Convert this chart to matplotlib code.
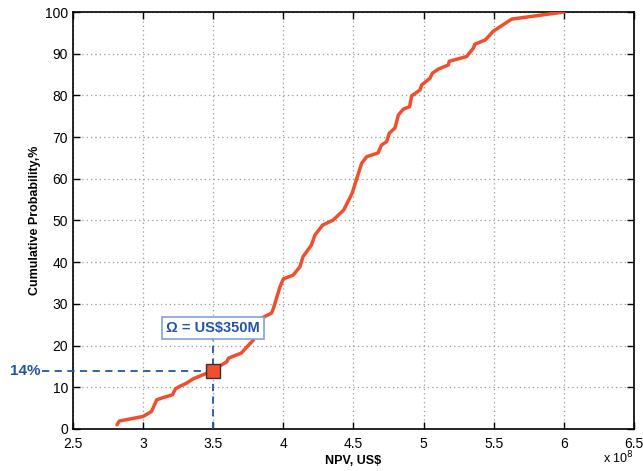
import matplotlib
matplotlib.use("Agg")
import matplotlib.pyplot as plt

plt.rcParams['font.family'] = ['Liberation Sans', 'DejaVu Sans']

# NPV (x 1e8 US$) and cumulative probability (%)
npv = [2.814, 2.83, 3.0, 3.06, 3.097, 3.14, 3.21, 3.23, 3.26, 3.31, 3.356, 3.405, 3.5,
       3.55, 3.596, 3.61, 3.70, 3.74, 3.786, 3.845, 3.916, 3.93, 3.976, 4.0, 4.07,
       4.118, 4.14, 4.20, 4.225, 4.28, 4.355, 4.43, 4.49, 4.52, 4.558, 4.594, 4.675,
       4.70, 4.736, 4.755, 4.796, 4.82, 4.855, 4.90, 4.915, 4.974, 4.986, 5.045, 5.062,
       5.105, 5.176, 5.183, 5.306, 5.354, 5.366, 5.44, 5.497, 5.628, 6.0]
cum_prob = [1.0, 1.9, 3.0, 4.2, 7.0, 7.5, 8.2, 9.6, 10.2, 11.0, 12.0, 12.7, 14.0,
            15.2, 16.1, 17.0, 18.2, 19.7, 21.3, 26.6, 27.8, 29.0, 34.1, 36.0, 36.9,
            38.9, 41.3, 44.1, 46.5, 48.9, 50.1, 52.5, 56.5, 59.7, 63.7, 65.3, 66.2,
            68.1, 68.9, 70.9, 72.2, 75.3, 76.7, 77.3, 79.9, 81.3, 82.5, 84.1, 85.3,
            86.3, 87.3, 88.2, 89.3, 91.3, 92.3, 93.3, 95.4, 98.3, 100.0]

omega_npv = 3.5
omega_prob = 14
omega_label = "Ω = US$350M"

x_ticks = [2.5, 3, 3.5, 4, 4.5, 5, 5.5, 6, 6.5]
y_ticks = list(range(0, 101, 10))

fig = plt.figure(figsize=(6.43, 4.71), dpi=100)
ax = fig.add_axes([0.1135, 0.0892, 0.8725, 0.8853])

blue = '#2255a8'
red = '#f04e2c'

ax.plot(npv, cum_prob, color=red, lw=2.5, solid_capstyle='round', zorder=3)

# reference lines to the Omega point (horizontal one runs out to the label)
ax.plot([2.28, omega_npv], [omega_prob, omega_prob], color=blue, lw=1.3,
        ls=(0, (4, 3)), zorder=4, clip_on=False)
ax.plot([omega_npv, omega_npv], [0, 24], color=blue, lw=1.3,
        ls=(0, (4, 3)), zorder=4)
ax.plot([omega_npv], [omega_prob], marker='s', ms=10, mfc=red, mec='#333333',
        mew=1.0, zorder=5, ls='none')

ax.text(omega_npv, 24.2, omega_label, color=blue, fontsize=10.5, fontweight='bold',
        ha='center', va='center', zorder=6,
        bbox=dict(boxstyle='square,pad=0.3', fc='white', ec='#7ea3d6', lw=1.2))
ax.text(2.265, omega_prob, f"{omega_prob}%", color=blue, fontsize=11,
        fontweight='bold', ha='right', va='center', clip_on=False)

ax.set_xlim(2.5, 6.5)
ax.set_ylim(0, 100)
ax.set_xticks(x_ticks)
ax.set_xticklabels([f"{t:g}" for t in x_ticks])
ax.set_yticks(y_ticks)
ax.tick_params(direction='in', length=5, width=1, labelsize=10, top=True,
               right=True, colors='black')
ax.tick_params(axis='x', pad=6)
ax.grid(True, color='#9a9a9a', ls=(0, (1, 2.5)), lw=0.9)
for s in ax.spines.values():
    s.set_linewidth(1.2)

ax.set_xlabel("NPV, US$", fontsize=9, fontweight='bold', labelpad=3)
ax.set_ylabel("Cumulative Probability,%", fontsize=9, fontweight='bold', labelpad=3)
ax.text(1.0, -0.07, r"x 10$^{8}$", transform=ax.transAxes, fontsize=9,
        ha='right', va='center')

fig.savefig("out.png", dpi=100)
